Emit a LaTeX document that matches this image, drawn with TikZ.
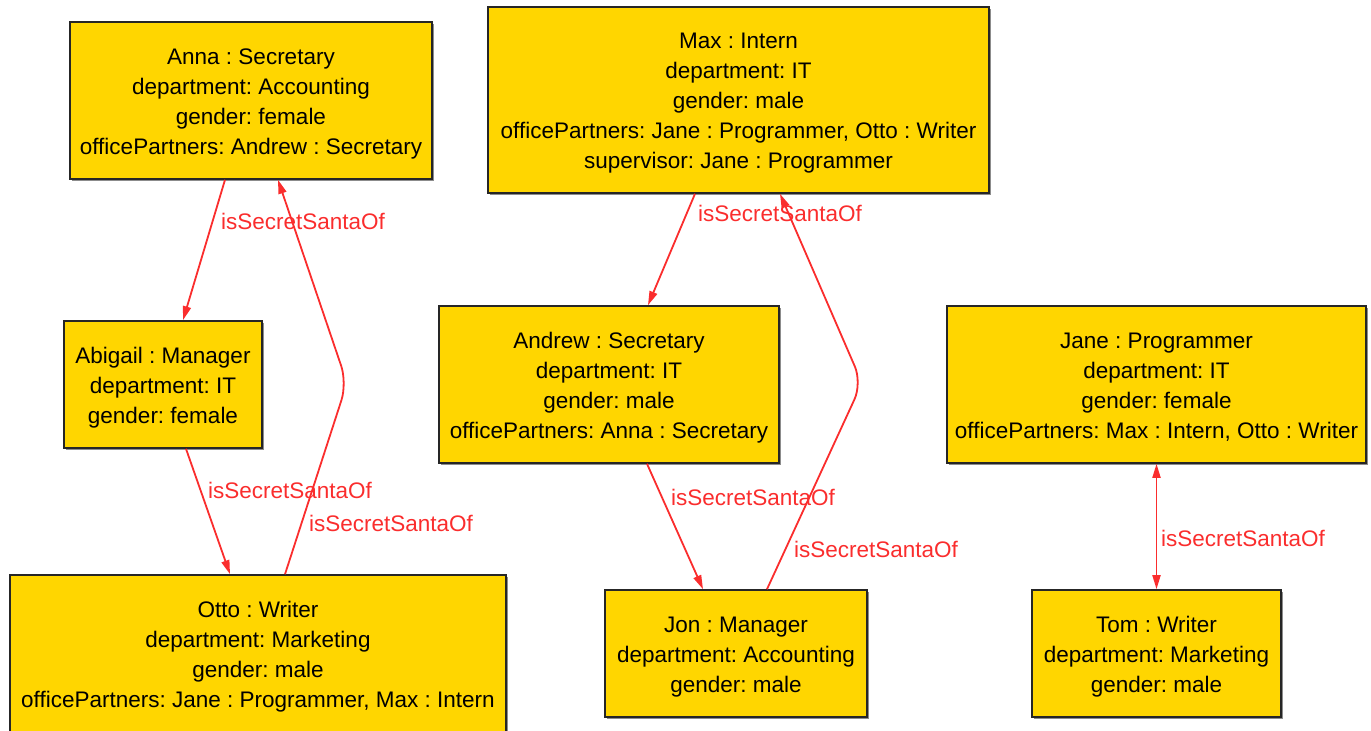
\documentclass[tikz,border=0pt]{standalone}
\usepackage{fontspec}
\setmainfont{Liberation Sans}
\frenchspacing
\usetikzlibrary{arrows.meta}
\usetikzlibrary{shadows}
\definecolor{boxgold}{RGB}{255,214,0}
\definecolor{santared}{RGB}{250,45,45}
\newcommand{\firstline}{\rule{0pt}{22pt}}
\newcommand{\lastline}{\rule[-5pt]{0pt}{5pt}}

\begin{document}
\begin{tikzpicture}[x=1pt, y=-1pt, >={Triangle[length=14pt,width=8pt]},
	every node/.style={inner sep=0pt, font=\fontsize{22.5}{30}\selectfont},
	obj/.style={rectangle, draw=black!85, line width=1.6pt, fill=boxgold, align=center,
		drop shadow={shadow xshift=1.5pt, shadow yshift=-1.5pt, fill=black!45, opacity=1}},
	santa/.style={->, draw=santared, line width=1.8pt},
	lbl/.style={text=santared}]
	\useasboundingbox (0,0) rectangle (1371,731);
	%Objects, top row
	\node [obj, minimum width=362pt, minimum height=157pt] (anna) at (251,100.5)
		{\firstline Anna : Secretary\\department: Accounting\\gender: female\\officePartners: Andrew : Secretary\lastline};
	\node [obj, minimum width=501pt, minimum height=186pt] (max) at (738.5,100)
		{\firstline Max : Intern\\department: IT\\gender: male\\officePartners: Jane : Programmer, Otto : Writer\\supervisor: Jane : Programmer\lastline};
	%Objects, middle row
	\node [obj, minimum width=198pt, minimum height=127pt] (abigail) at (163,384.5)
		{\firstline Abigail : Manager\\department: IT\\gender: female\lastline};
	\node [obj, minimum width=340pt, minimum height=157pt] (andrew) at (609,384.5)
		{\firstline Andrew : Secretary\\department: IT\\gender: male\\officePartners: Anna : Secretary\lastline};
	\node [obj, minimum width=419pt, minimum height=157pt] (jane) at (1156.5,384.5)
		{\firstline Jane : Programmer\\department: IT\\gender: female\\officePartners: Max : Intern, Otto : Writer\lastline};
	%Objects, bottom row
	\node [obj, minimum width=496pt, minimum height=157pt] (otto) at (258,653.5)
		{\firstline Otto : Writer\\department: Marketing\\gender: male\\officePartners: Jane : Programmer, Max : Intern\lastline};
	\node [obj, minimum width=262pt, minimum height=127pt] (jon) at (736,653.5)
		{\firstline Jon : Manager\\department: Accounting\\gender: male\lastline};
	\node [obj, minimum width=249pt, minimum height=127pt] (tom) at (1156.5,653.5)
		{\firstline Tom : Writer\\department: Marketing\\gender: male\lastline};
	%Bends
	\coordinate (bendOtto) at (347,383);
	\coordinate (bendJon) at (862,383);
	%Links
	\draw[santa] ([xshift=-26pt]anna.south) -- ([xshift=20pt]abigail.north);
	\draw[santa, rounded corners=18pt] ([xshift=27pt]otto.north) -- (bendOtto) -- ([xshift=27pt]anna.south);
	\draw[santa] ([xshift=23pt]abigail.south) -- ([xshift=-28pt]otto.north);
	\draw[santa] ([xshift=-43.5pt]max.south) -- ([xshift=39pt]andrew.north);
	\draw[santa, rounded corners=18pt] ([xshift=31pt]jon.north) -- (bendJon) -- ([xshift=41.5pt]max.south);
	\draw[santa] ([xshift=38pt]andrew.south) -- ([xshift=-33pt]jon.north);
	\draw[santa, <->] (jane.south) -- (tom.north);
	%Labels
	\node [lbl] (lblAnnaAbigail) at (303,221) {isSecretSantaOf};
	\node [lbl] (lblAbigailOtto) at (290,490) {isSecretSantaOf};
	\node [lbl] (lblOttoAnna) at (391,523) {isSecretSantaOf};
	\node [lbl] (lblMaxAndrew) at (780,213) {isSecretSantaOf};
	\node [lbl] (lblAndrewJon) at (753,497) {isSecretSantaOf};
	\node [lbl] (lblJonMax) at (876,549) {isSecretSantaOf};
	\node [lbl] (lblJaneTom) at (1243,538) {isSecretSantaOf};
\end{tikzpicture}
\end{document}
